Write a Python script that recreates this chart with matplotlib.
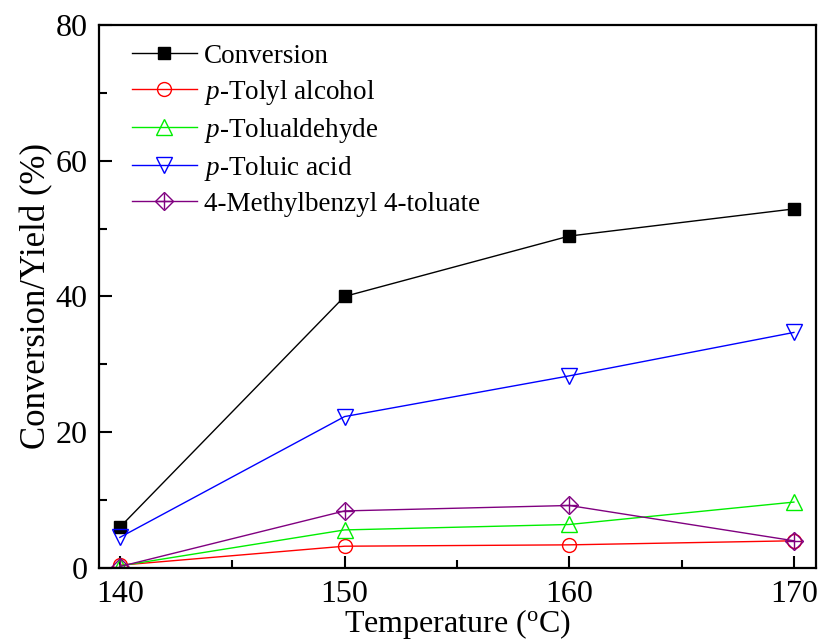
import matplotlib
matplotlib.use('Agg')
import matplotlib.pyplot as plt
from matplotlib.legend_handler import HandlerTuple
from matplotlib.ticker import MultipleLocator

plt.rcParams['font.family'] = ['Liberation Serif', 'DejaVu Serif']
plt.rcParams['mathtext.fontset'] = 'custom'
plt.rcParams['mathtext.it'] = 'Liberation Serif:italic'
plt.rcParams['mathtext.rm'] = 'Liberation Serif'

# data
temperature = [140, 150, 160, 170]
conversion = [6.0, 40.0, 48.9, 52.9]
tolyl_alcohol = [0.4, 3.2, 3.4, 4.0]
tolualdehyde = [0.3, 5.6, 6.4, 9.7]
toluic_acid = [4.5, 22.3, 28.3, 34.7]
ester = [0.2, 8.4, 9.2, 4.0]

fig = plt.figure(figsize=(8.18, 6.41), dpi=100)
ax = fig.add_axes([0.121, 0.114, 0.877, 0.847])

ms = 9
h1, = ax.plot(temperature, conversion, color='black', lw=1, marker='s', ms=ms,
              mfc='black', mec='black')
h2, = ax.plot(temperature, tolyl_alcohol, color='red', lw=1, marker='o', ms=ms + 1,
              mfc='none', mec='red')
h3, = ax.plot(temperature, tolualdehyde, color='#00ee00', lw=1, marker='^', ms=ms + 2,
              mfc='none', mec='#00ee00')
h4, = ax.plot(temperature, toluic_acid, color='blue', lw=1, marker='v', ms=ms + 2,
              mfc='none', mec='blue')
h5, = ax.plot(temperature, ester, color='purple', lw=1, marker='D', ms=ms,
              mfc='none', mec='purple')
h5b, = ax.plot(temperature, ester, color='purple', lw=0, marker='+', ms=ms + 3,
               mew=1)

labels = ['Conversion', r'$p$-Tolyl alcohol', r'$p$-Tolualdehyde',
          r'$p$-Toluic acid', '4-Methylbenzyl 4-toluate']
ax.legend([h1, h2, h3, h4, (h5, h5b)], labels,
          handler_map={tuple: HandlerTuple(ndivide=1)},
          loc='upper left', bbox_to_anchor=(0.012, 1.01), frameon=False,
          fontsize=19.5, handlelength=2.4, labelspacing=0.33, handletextpad=0.25)

ax.set_xlim(139.07, 171.0)
ax.set_ylim(0, 80)
ax.xaxis.set_major_locator(MultipleLocator(10))
ax.xaxis.set_minor_locator(MultipleLocator(5))
ax.yaxis.set_major_locator(MultipleLocator(20))
ax.yaxis.set_minor_locator(MultipleLocator(10))
ax.tick_params(which='both', direction='in', top=False, right=False,
               labelsize=23, width=1.5)
ax.tick_params(which='major', length=9)
ax.tick_params(which='minor', length=6)
ax.tick_params(axis='x', which='major', pad=9)
ax.tick_params(axis='y', which='major', pad=8)
for s in ax.spines.values():
    s.set_linewidth(1.6)

ax.set_xlabel(r'Temperature ($^{\rm o}$C)', fontsize=23, labelpad=-2)
ax.set_ylabel('Conversion/Yield (%)', fontsize=25, labelpad=2)

fig.savefig('out.png', dpi=100)
